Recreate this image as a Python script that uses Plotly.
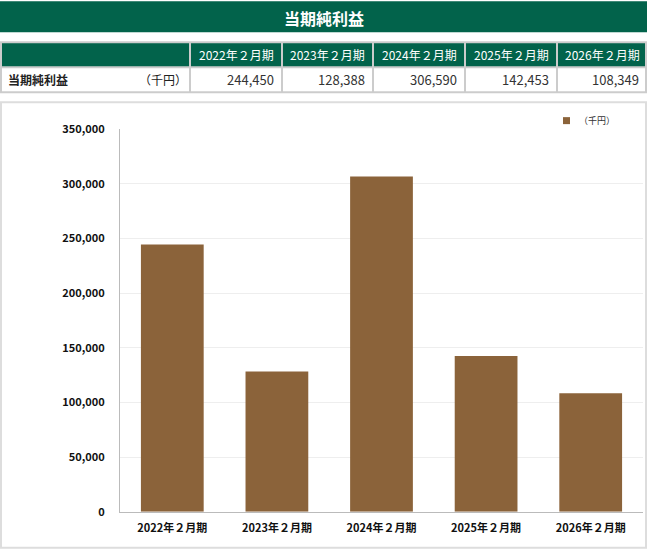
import plotly.graph_objects as go

title = "当期純利益"
row_label = "当期純利益"
unit = "（千円）"
periods = ["2022年２月期", "2023年２月期", "2024年２月期", "2025年２月期", "2026年２月期"]
values = [244450, 128388, 306590, 142453, 108349]
value_labels = ["244,450", "128,388", "306,590", "142,453", "108,349"]
y_ticks = [0, 50000, 100000, 150000, 200000, 250000, 300000, 350000]

W, H = 647, 555
OFF = 8          # page top offset in the viewer
SCALE = 571 / 555  # vertical scaling applied by the viewer
GREEN = "#02634B"
BROWN = "#8B633A"
FONT = "Noto Sans CJK JP"

def px(x):
    return x / W

def py(y):
    return 1 - (y * SCALE - OFF) / H

fig = go.Figure()
fig.add_trace(go.Bar(
    x=periods, y=values, name=unit, marker=dict(color=BROWN, line=dict(width=0)),
    width=0.6, showlegend=False,
))

shapes = []
annotations = []

shapes.append(dict(type="rect", xref="paper", yref="paper", x0=px(0), x1=px(647), y0=py(31), y1=py(0),
                   fillcolor=GREEN, line=dict(width=0), layer="below"))
annotations.append(dict(xref="paper", yref="paper", x=0.5, y=py(16.5), text="<b>" + title + "</b>", showarrow=False,
                        font=dict(color="white", size=16, family=FONT), xanchor="center", yanchor="middle"))

col_edges = [0, 190, 282, 373, 465, 557, 647]
t0, t1, t2 = 41, 66, 91
shapes.append(dict(type="rect", xref="paper", yref="paper", x0=px(0), x1=px(647), y0=py(t1), y1=py(t0),
                   fillcolor=GREEN, line=dict(width=0), layer="below"))
for y in [t0, t1, t2]:
    shapes.append(dict(type="line", xref="paper", yref="paper", x0=px(0), x1=px(647), y0=py(y), y1=py(y),
                       line=dict(color="#CCCCCC", width=2)))
for x in col_edges:
    xx = min(max(x, 1), 646)
    shapes.append(dict(type="line", xref="paper", yref="paper", x0=px(xx), x1=px(xx), y0=py(t2), y1=py(t0),
                       line=dict(color="#CCCCCC", width=2)))
for i, p in enumerate(periods):
    cx = (col_edges[i + 1] + col_edges[i + 2]) / 2
    annotations.append(dict(xref="paper", yref="paper", x=px(cx), y=py((t0 + t1) / 2), text=p, showarrow=False,
                            font=dict(color="white", size=12, family=FONT), xanchor="center", yanchor="middle"))
    annotations.append(dict(xref="paper", yref="paper", x=px(col_edges[i + 2] - 6), y=py((t1 + t2) / 2),
                            text=value_labels[i], showarrow=False,
                            font=dict(color="#333333", size=13, family=FONT), xanchor="right", yanchor="middle"))
annotations.append(dict(xref="paper", yref="paper", x=px(6), y=py((t1 + t2) / 2), text="<b>" + row_label + "</b>",
                        showarrow=False, font=dict(color="#222222", size=12, family=FONT),
                        xanchor="left", yanchor="middle"))
annotations.append(dict(xref="paper", yref="paper", x=px(189), y=py((t1 + t2) / 2), text=unit, showarrow=False,
                        font=dict(color="#222222", size=12, family=FONT), xanchor="right", yanchor="middle"))

shapes.append(dict(type="rect", xref="paper", yref="paper", x0=px(1), x1=px(646), y0=py(547), y1=py(101),
                   line=dict(color="#DDDDDD", width=2), fillcolor="rgba(0,0,0,0)", layer="below"))

shapes.append(dict(type="rect", xref="paper", yref="paper", x0=px(563), x1=px(570), y0=py(123), y1=py(116),
                   fillcolor=BROWN, line=dict(width=0)))
annotations.append(dict(xref="paper", yref="paper", x=px(577), y=py(119.5), text=unit, showarrow=False,
                        font=dict(color="#333333", size=9, family=FONT), xanchor="left", yanchor="middle"))

fig.update_layout(
    width=W, height=H,
    margin=dict(l=0, r=0, t=0, b=0),
    paper_bgcolor="white", plot_bgcolor="white",
    font=dict(family=FONT, color="#111111"),
    shapes=shapes, annotations=annotations,
    showlegend=False,
    xaxis=dict(domain=[px(120), px(643)], showline=True, linecolor="#BBBBBB", linewidth=1,
               tickfont=dict(size=11, family=FONT, color="#111111", weight="bold"), ticks="", showgrid=False,
               ticklabelstandoff=6),
    yaxis=dict(domain=[py(511), py(128)], range=[0, 350000], tickvals=y_ticks,
               tickformat=",d", showline=True, linecolor="#BBBBBB", linewidth=1,
               gridcolor="#EEEEEE", gridwidth=1, zeroline=False, ticks="", ticklabelstandoff=12,
               tickfont=dict(size=11, family=FONT, color="#111111", weight="bold")),
)

fig.write_html("out.html")
